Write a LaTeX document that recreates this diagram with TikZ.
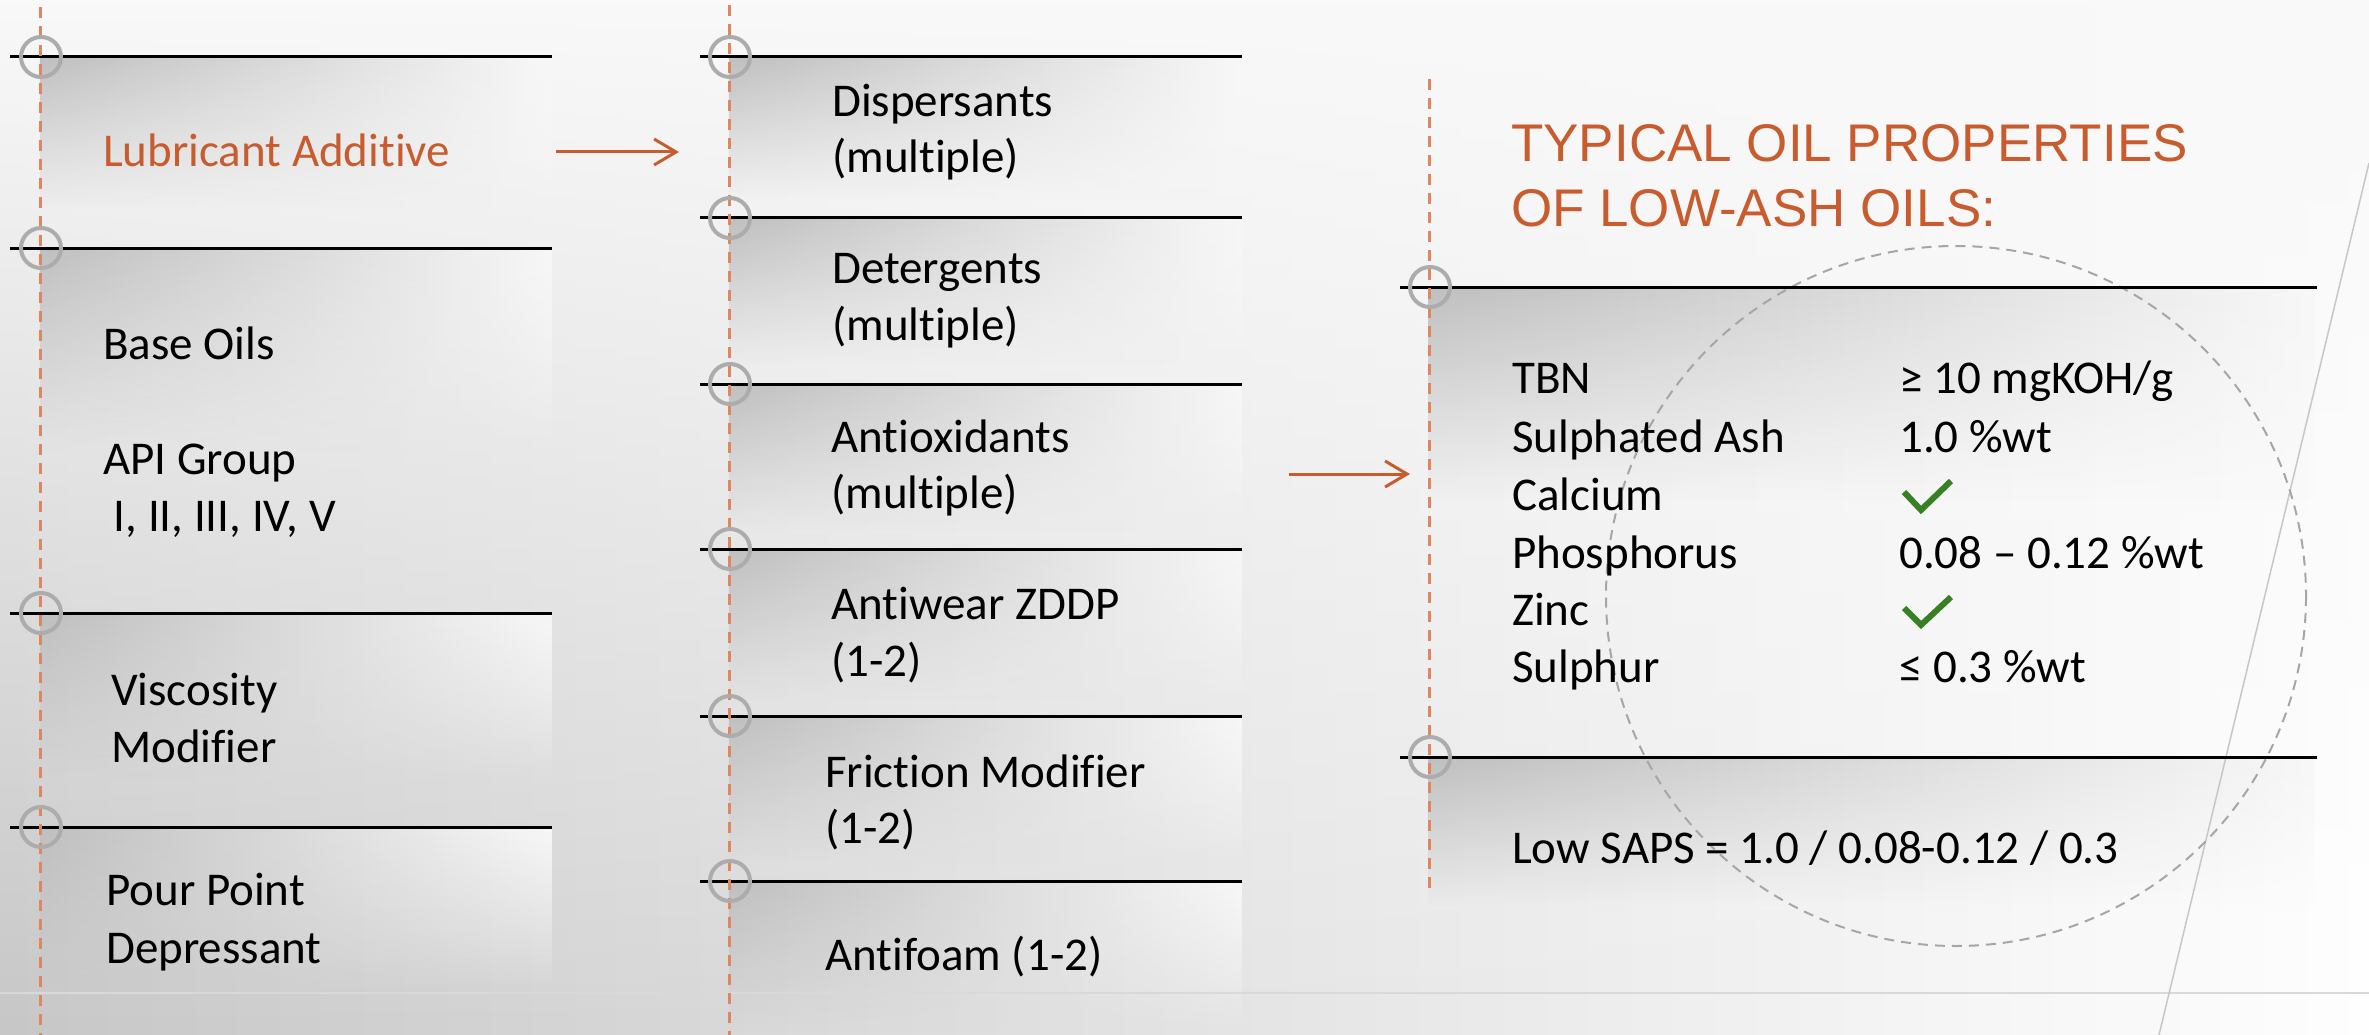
\documentclass[tikz,border=0pt]{standalone}
\usepackage{fontspec}
\setmainfont{Carlito}[Ligatures=NoCommon,RawFeature={-liga;-clig}]
\newfontfamily\titlefont{Liberation Sans}
\usetikzlibrary{arrows.meta,fadings}
\definecolor{accent}{RGB}{200,92,46}
\definecolor{dashor}{RGB}{222,135,95}
\definecolor{ringgray}{RGB}{172,172,172}
\definecolor{checkgreen}{RGB}{56,128,36}
\definecolor{bgbase}{RGB}{249,249,249}
\tikzfading[name=bandfade, top color=transparent!0, bottom color=transparent!100]
\tikzfading[name=bgfade, top color=transparent!100, bottom color=transparent!0]
\newcommand\myband[4]{\shade[left color=black!25, right color=black!3, path fading=bandfade] (#1,#2) rectangle (#3,#4);}
\begin{document}
\begin{tikzpicture}[x=1pt,y=-1pt,
  txt/.style={anchor=base west, inner sep=0pt, font=\fontsize{47}{57.5}\selectfont, text=black},
  hot/.style={txt, text=accent},
  ttl/.style={anchor=base west, inner sep=0pt, font=\titlefont\fontsize{53}{64}\selectfont, text=accent},
  rule/.style={black, line width=3pt},
  guide/.style={dashor, line width=3pt, dash pattern=on 11pt off 8pt},
  ring/.style={ringgray, line width=4pt},
  arr/.style={accent, line width=3pt, -{Straight Barb[length=22pt,width=26pt,line width=3pt]}},
  check/.style={checkgreen, line width=6pt},
  faint/.style={black!15, line width=2pt}]
\useasboundingbox (0,0) rectangle (2369,1035);
% background
\fill[bgbase] (0,0) rectangle (2369,1035);
\shade[left color=black!22, right color=white, path fading=bgfade] (0,0) rectangle (2369,1035);
% bands
\myband{40}{57}{552}{210}
\myband{40}{248}{552}{450}
\myband{40}{613}{552}{780}
\myband{40}{827}{552}{990}
\myband{729}{57}{1242}{200}
\myband{729}{218}{1242}{365}
\myband{729}{384}{1242}{530}
\myband{729}{549}{1242}{700}
\myband{729}{716}{1242}{865}
\myband{729}{881}{1242}{1030}
\myband{1429}{287}{2317}{500}
\myband{1429}{757}{2317}{905}
% faint lines
\draw[faint] (0,993) -- (2369,993);
\draw[black!22, line width=1.5pt] (2369,163) -- (2159,1035);
\draw[black!35, line width=2pt, dash pattern=on 10pt off 7pt] (1956,596) circle[radius=350];
% rules
\foreach \y in {57,248,613,827} \draw[rule] (10,\y) -- (552,\y);
\foreach \y in {57,218,384,549,716,881} \draw[rule] (700,\y) -- (1242,\y);
\foreach \y in {287,757} \draw[rule] (1400,\y) -- (2317,\y);
% guides
\draw[guide] (40,7) -- (40,1035);
\draw[guide] (729,5) -- (729,1035);
\draw[guide] (1429,79) -- (1429,892);
% rings
\foreach \y in {57,248,613,827} \draw[ring] (41,\y) circle[radius=20];
\foreach \y in {57,218,384,549,716,881} \draw[ring] (730,\y) circle[radius=20];
\foreach \y in {287,757} \draw[ring] (1430,\y) circle[radius=20];
% left column
\node[hot] (lub) at (103,167) {Lubricant Additive};
\node[txt] (base) at (103,359) {Base Oils};
\node[txt] (api1) at (103,474) {API Group};
\node[txt] (api2) at (103,531) {\ I, II, III, IV, V};
\node[txt] (vis1) at (111,705) {Viscosity};
\node[txt] (vis2) at (111,762) {Modifier};
\node[txt] (ppd1) at (106,905) {Pour Point};
\node[txt] (ppd2) at (106,963) {Depressant};
% middle column
\node[txt] (dis1) at (832,117) {Dispersants};
\node[txt] (dis2) at (832,173) {(multiple)};
\node[txt] (det1) at (832,283) {Detergents};
\node[txt] (det2) at (832,340) {(multiple)};
\node[txt] (aox1) at (831,452) {Antioxidants};
\node[txt] (aox2) at (831,508) {(multiple)};
\node[txt] (aw1) at (831,619) {Antiwear ZDDP};
\node[txt] (aw2) at (831,676) {(1-2)};
\node[txt] (fm1) at (825,787) {Friction Modifier};
\node[txt] (fm2) at (825,843) {(1-2)};
\node[txt] (af) at (825,970) {Antifoam (1-2)};
% right column
\node[ttl] (t1) at (1511,162) {TYPICAL OIL PROPERTIES};
\node[ttl] (t2) at (1511,226) {OF LOW-ASH OILS:};
\node[txt] (k1) at (1512,393) {TBN};
\node[txt] (k2) at (1512,452) {Sulphated Ash};
\node[txt] (k3) at (1512,510) {Calcium};
\node[txt] (k4) at (1512,568) {Phosphorus};
\node[txt] (k5) at (1512,625) {Zinc};
\node[txt] (k6) at (1512,682) {Sulphur};
\node[txt] (v1) at (1899,393) {≥ 10 mgKOH/g};
\node[txt] (v2) at (1899,452) {1.0 \%wt};
\node[txt] (v4) at (1899,568) {0.08 – 0.12 \%wt};
\node[txt] (v6) at (1899,682) {≤ 0.3 \%wt};
\node[txt] (saps) at (1512,863) {Low SAPS = 1.0 / 0.08-0.12 / 0.3};
\draw[check] (1904,492) -- (1921,510) -- (1951,481);
\draw[check] (1904,608) -- (1921,625) -- (1951,597);
% arrows
\coordinate (a1s) at (556,152);
\coordinate (a1e) at (679,152);
\coordinate (a2s) at (1289,474);
\coordinate (a2e) at (1410,474);
\draw[arr] (a1s) -- (a1e);
\draw[arr] (a2s) -- (a2e);
\end{tikzpicture}
\end{document}
